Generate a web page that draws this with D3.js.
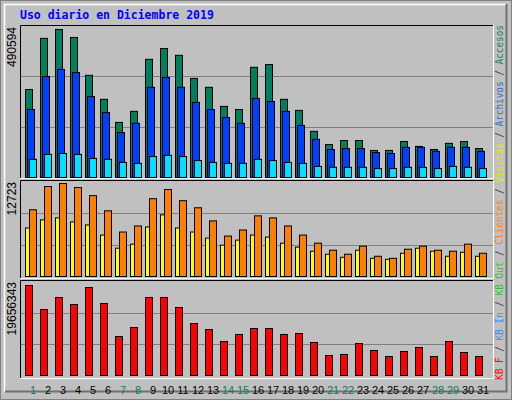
<!DOCTYPE html>
<html>
<head>
<meta charset="utf-8">
<script src="https://cdn.jsdelivr.net/npm/d3@7"></script>
<style>
  body { margin: 0; background: #c0c0c0; }
  svg { display: block; }
</style>
</head>
<body>
<div id="chart"></div>
<script>
// days of December 2019, weekends/holidays drawn in green
const days = d3.range(1, 32);
const special_days = [1, 7, 8, 14, 15, 21, 22, 28, 29];

// top panel (thousands)
const accesos  = [286,452,481,455,332,254,179,215,384,419,397,322,293,231,221,358,367,254,218,150,107,120,120,88,88,117,101,91,111,117,94];
const archivos = [221,328,351,341,263,211,146,176,293,325,293,244,221,195,176,257,247,215,169,124,91,94,94,81,78,98,98,85,98,98,85];
const visitas_top = [59,75,78,75,62,59,49,46,68,72,68,55,49,46,46,59,55,49,46,36,33,33,33,29,29,33,33,29,36,33,29];
const top_max = 490.594;

// middle panel
const visitas  = [6566,7661,7934,7387,6977,5609,3830,4378,6703,8345,6566,6019,5198,4241,4925,5609,5335,4514,3967,3420,3010,2599,3557,2462,2326,3146,3830,3420,2736,3283,2736];
const clientes = [9029,12175,12586,12038,10944,8892,6019,6840,10534,11765,10260,9302,7524,5472,6293,8208,7934,6840,5609,4514,3557,3010,4104,2736,2462,3694,4104,3557,3420,4378,3146];
const mid_max = 12723;

// bottom panel (thousands of kB)
const kb_f = [19025,13950,16490,15010,18600,15220,8245,10150,16490,16490,14375,10990,9725,7190,8670,9935,9935,8670,8880,6975,4230,4440,6765,5285,4015,5075,5920,4015,7190,4860,4015];
const bot_max = 19656.343;

const width = 512, height = 400;
const svg = d3.select("#chart").append("svg")
    .attr("width", width).attr("height", height);

// raised outer frame
svg.append("rect").attr("x", 0).attr("y", 0).attr("width", width).attr("height", height).attr("fill", "#c0c0c0");
svg.append("rect").attr("x", 0.5).attr("y", 0.5).attr("width", width - 1).attr("height", height - 1)
    .attr("fill", "none").attr("stroke", "#808080");
svg.append("path").attr("d", "M4.5,392V4.5H506").attr("fill", "none").attr("stroke", "#fff").attr("stroke-width", 1.5);
svg.append("path").attr("d", "M5,391.5H506.5V4").attr("fill", "none").attr("stroke", "#707070").attr("stroke-width", 2);

svg.append("text")
    .attr("x", 20).attr("y", 19)
    .style("font", "bold 11.5px 'DejaVu Sans Mono'")
    .attr("fill", "#0000ff")
    .text("Uso diario en Diciembre 2019");

const x = d3.scaleLinear().domain([1, 32]).range([25, 490]);

const panels = [
    {top: 25, bottom: 178, base: 177, max: top_max, label: "490594",
     series: [{vals: accesos, dx: 0, w: 7, color: "#007f5f"},
              {vals: archivos, dx: 2, w: 7, color: "#0040ff"},
              {vals: visitas_top, dx: 4, w: 7, color: "#00e0ff"}]},
    {top: 180, bottom: 278, base: 276, max: mid_max, label: "12723",
     series: [{vals: visitas, dx: 0, w: 4, color: "#ffff00"},
              {vals: clientes, dx: 4, w: 7, color: "#ff8000"}]},
    {top: 280, bottom: 378, base: 375, max: bot_max, label: "19656343",
     series: [{vals: kb_f, dx: 0, w: 7, color: "#ff0000"}]}
];

panels.forEach(function(p) {
    const scale_top = p.top + (p.top === 25 ? 1 : 2);
    const y = d3.scaleLinear().domain([0, p.max]).range([p.base, scale_top]);

    svg.append("rect").attr("x", 20).attr("y", p.top).attr("width", 473).attr("height", p.bottom - p.top)
        .attr("fill", "#c0c0c0");
    svg.append("path").attr("d", "M20.5," + p.bottom + "V" + (p.top + 0.5) + "H493")
        .attr("fill", "none").attr("stroke", "#000");
    svg.append("path").attr("d", "M20," + (p.bottom + 0.5) + "H493.5V" + p.top)
        .attr("fill", "none").attr("stroke", "#fff");

    // grid lines at 1/3 and 2/3
    svg.selectAll(null).data([p.max / 3, 2 * p.max / 3]).enter()
        .append("line")
        .attr("x1", 21).attr("x2", 493)
        .attr("y1", d => Math.round(y(d)) + 0.5).attr("y2", d => Math.round(y(d)) + 0.5)
        .attr("stroke", "#808080");

    p.series.forEach(function(s) {
        svg.selectAll(null).data(s.vals).enter()
            .append("rect")
            .attr("x", (d, i) => x(days[i]) + s.dx + 0.5)
            .attr("y", d => y(d) + 0.5)
            .attr("width", s.w)
            .attr("height", d => p.base - y(d))
            .attr("fill", s.color)
            .attr("stroke", "#000");
    });

    svg.append("text")
        .attr("transform", "translate(16," + (p.top + 2) + ") rotate(-90)")
        .attr("text-anchor", "end")
        .style("font", "12px 'Liberation Sans'")
        .attr("fill", "#000")
        .text(p.label);
});

// day labels
svg.selectAll(null).data(days).enter()
    .append("text")
    .attr("x", d => x(d) + 8)
    .attr("y", 394)
    .attr("text-anchor", "middle")
    .style("font", "11px 'Liberation Sans'")
    .attr("fill", d => special_days.includes(d) ? "#00805f" : "#000")
    .text(d => d);

// right-side legend
const legend_items = [
    ["KB F", "#ff0000"], ["KB In", "#3090ff"], ["KB Out", "#30c030"],
    ["Clientes", "#ff8020"], ["Visitas", "#e8e800"], ["Archivos", "#3070c0"], ["Accesos", "#208060"]
];
const legend = svg.append("text")
    .attr("transform", "translate(503,380) rotate(-90)")
    .attr("textLength", 355)
    .attr("lengthAdjust", "spacingAndGlyphs")
    .style("font", "10px 'DejaVu Sans Mono'");
legend_items.forEach(function(item, i) {
    if (i > 0) legend.append("tspan").attr("fill", "#404040").text(" / ");
    legend.append("tspan").attr("fill", item[1]).text(item[0]);
});
</script>
</body>
</html>
